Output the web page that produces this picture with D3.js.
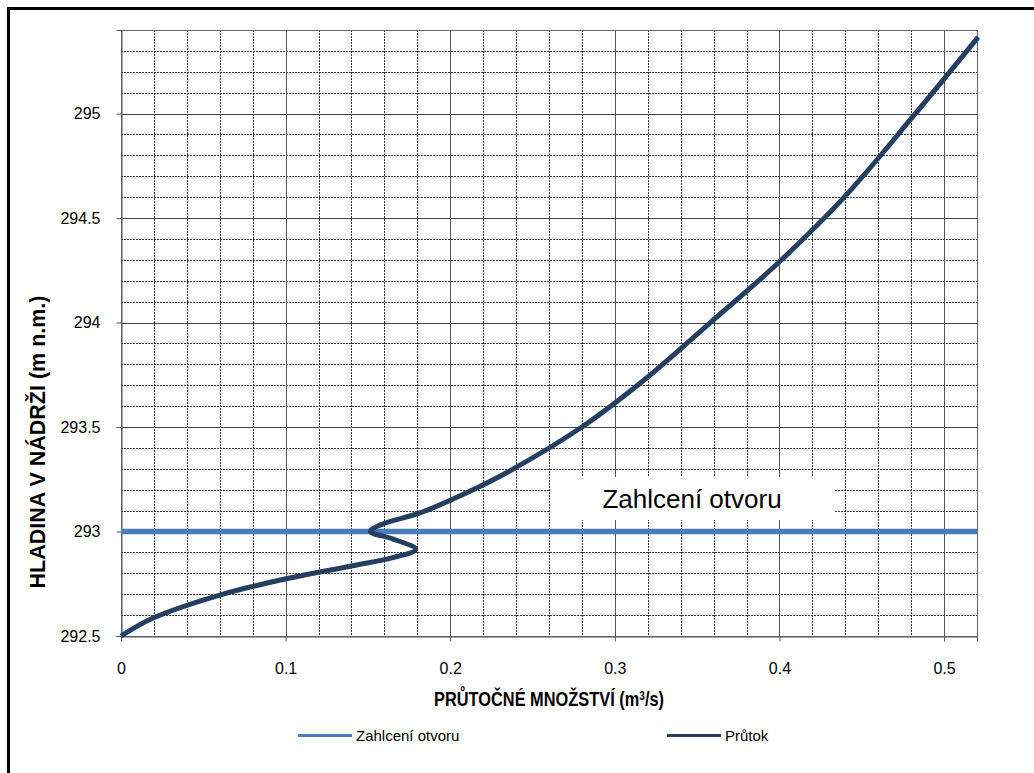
<!DOCTYPE html>
<html>
<head>
<meta charset="utf-8">
<script src="https://cdn.jsdelivr.net/npm/d3@7"></script>
<style>
  html, body { margin: 0; padding: 0; background: #fff; }
  svg { display: block; font-family: "Liberation Sans", Arial, sans-serif; }
</style>
</head>
<body>
<svg id="chart" width="1034" height="773"></svg>
<script>
// ---- data ----
const flowQ = [0, 0.0195, 0.060, 0.101, 0.140, 0.165, 0.179, 0.165, 0.1515, 0.158, 0.182, 0.208,
  0.235, 0.280, 0.317, 0.358, 0.3985, 0.4405, 0.481, 0.5207];
const levelH = [292.5, 292.586, 292.696, 292.775, 292.835, 292.875, 292.915, 292.965, 293.0, 293.033, 293.09, 293.178,
  293.285, 293.50, 293.72, 294.0, 294.28, 294.61, 294.985, 295.366];
const cloggingLevel = 293.0;
const xTickValues = [0, 0.1, 0.2, 0.3, 0.4, 0.5];
const yTickValues = [292.5, 293, 293.5, 294, 294.5, 295];
const xDomain = [0, 0.52];
const yDomain = [292.5, 295.4];
const seriesNames = ["Zahlcení otvoru", "Průtok"];
const yTitle = "HLADINA V NÁDRŽI (m n.m.)";
const annotation = "Zahlcení otvoru";

// ---- layout ----
const svg = d3.select("#chart");
const L = 121, R = 977, T = 30, B = 636;
const x = d3.scaleLinear().domain(xDomain).range([L, R]);
const y = d3.scaleLinear().domain(yDomain).range([B, T]);
const colClog = "#4a7ebb", colFlow = "#243f60";

// outer frame (only top/left visible)
svg.append("rect").attr("x", 8.5).attr("y", 8.5).attr("width", 1200).attr("height", 1000)
  .attr("fill", "none").attr("stroke", "#000").attr("stroke-width", 3);

// grid
const minorX = d3.range(0, 26).map(i => i * 0.02).filter(v => v > 0 && Math.abs(v * 10 - Math.round(v * 10)) > 1e-6);
const minorY = d3.range(0, 30).map(i => 292.5 + i * 0.1).filter(v => v > 292.5 && v < 295.39 && Math.abs(v * 2 - Math.round(v * 2)) > 1e-6);
const g = svg.append("g");
g.selectAll(".mx").data(minorX).enter().append("line")
  .attr("x1", d => Math.round(x(d)) + 0.5).attr("x2", d => Math.round(x(d)) + 0.5)
  .attr("y1", T).attr("y2", B).attr("stroke", "#3a3a3a").attr("stroke-dasharray", "2,1");
g.selectAll(".my").data(minorY).enter().append("line")
  .attr("y1", d => Math.round(y(d)) + 0.5).attr("y2", d => Math.round(y(d)) + 0.5)
  .attr("x1", L).attr("x2", R).attr("stroke", "#3a3a3a").attr("stroke-dasharray", "2,1");
g.selectAll(".Mx").data(xTickValues.filter(v => v > 0)).enter().append("line")
  .attr("x1", d => Math.round(x(d)) + 0.5).attr("x2", d => Math.round(x(d)) + 0.5)
  .attr("y1", T).attr("y2", B).attr("stroke", "#555");
g.selectAll(".My").data(yTickValues.filter(v => v > 292.5)).enter().append("line")
  .attr("y1", d => Math.round(y(d)) + 0.5).attr("y2", d => Math.round(y(d)) + 0.5)
  .attr("x1", L).attr("x2", R).attr("stroke", "#444");
// plot border
svg.append("rect").attr("x", L + 0.5).attr("y", T + 0.5).attr("width", R - L).attr("height", B - T)
  .attr("fill", "none").attr("stroke", "#666");

// axes
const xAxis = svg.append("g").attr("transform", `translate(0,${B + 0.5})`)
  .call(d3.axisBottom(x).tickValues(xTickValues).tickFormat(d3.format("")).tickSize(5).tickPadding(21));
const yAxis = svg.append("g").attr("transform", `translate(${L + 0.5},0)`)
  .call(d3.axisLeft(y).tickValues(yTickValues).tickFormat(d3.format("")).tickSize(5).tickPadding(16));
[xAxis, yAxis].forEach(a => {
  a.select(".domain").attr("stroke", "#555");
  a.selectAll(".tick line").attr("stroke", "#555");
  a.selectAll("text").attr("font-size", 16).attr("fill", "#000")
    .attr("font-family", "'Liberation Sans', Arial, sans-serif");
});

// annotation box
svg.append("rect").attr("x", 550).attr("y", 477).attr("width", 285).attr("height", 43).attr("fill", "#fff");
svg.append("text").attr("x", 692).attr("y", 508).attr("text-anchor", "middle")
  .attr("font-size", 26).attr("fill", "#000").text(annotation);

// clogging line
svg.append("line").attr("x1", x(xDomain[0])).attr("x2", x(xDomain[1]))
  .attr("y1", y(cloggingLevel)).attr("y2", y(cloggingLevel))
  .attr("stroke", colClog).attr("stroke-width", 5.5);

// flow curve
const pts = flowQ.map((q, i) => [q, levelH[i]]);
svg.append("path").datum(pts)
  .attr("d", d3.line().x(d => x(d[0])).y(d => y(d[1])).curve(d3.curveCatmullRom.alpha(0.5)))
  .attr("fill", "none").attr("stroke", colFlow).attr("stroke-width", 5)
  .attr("stroke-linejoin", "round").attr("stroke-linecap", "butt");

// axis titles
svg.append("text").attr("transform", `translate(549,706) scale(0.84,1)`).attr("text-anchor", "middle")
  .attr("font-size", 19.5).attr("font-weight", "bold").attr("fill", "#000")
  .html('PRŮTOČNÉ MNOŽSTVÍ (m<tspan baseline-shift="super" font-size="12">3</tspan>/s)');
svg.append("text").attr("transform", "translate(45,442) rotate(-90)").attr("text-anchor", "middle")
  .attr("font-size", 21.5).attr("font-weight", "bold").attr("fill", "#000").text(yTitle);

// legend
const legend = [
  { name: seriesNames[0], color: colClog, x: 298 },
  { name: seriesNames[1], color: colFlow, x: 667 }
];
const lg = svg.append("g").selectAll("g").data(legend).enter().append("g");
lg.append("line").attr("x1", d => d.x).attr("x2", d => d.x + 54).attr("y1", 735.5).attr("y2", 735.5)
  .attr("stroke", d => d.color).attr("stroke-width", 3);
lg.append("text").attr("x", d => d.x + 58).attr("y", 741).attr("font-size", 15).attr("fill", "#000")
  .text(d => d.name);
</script>
</body>
</html>
